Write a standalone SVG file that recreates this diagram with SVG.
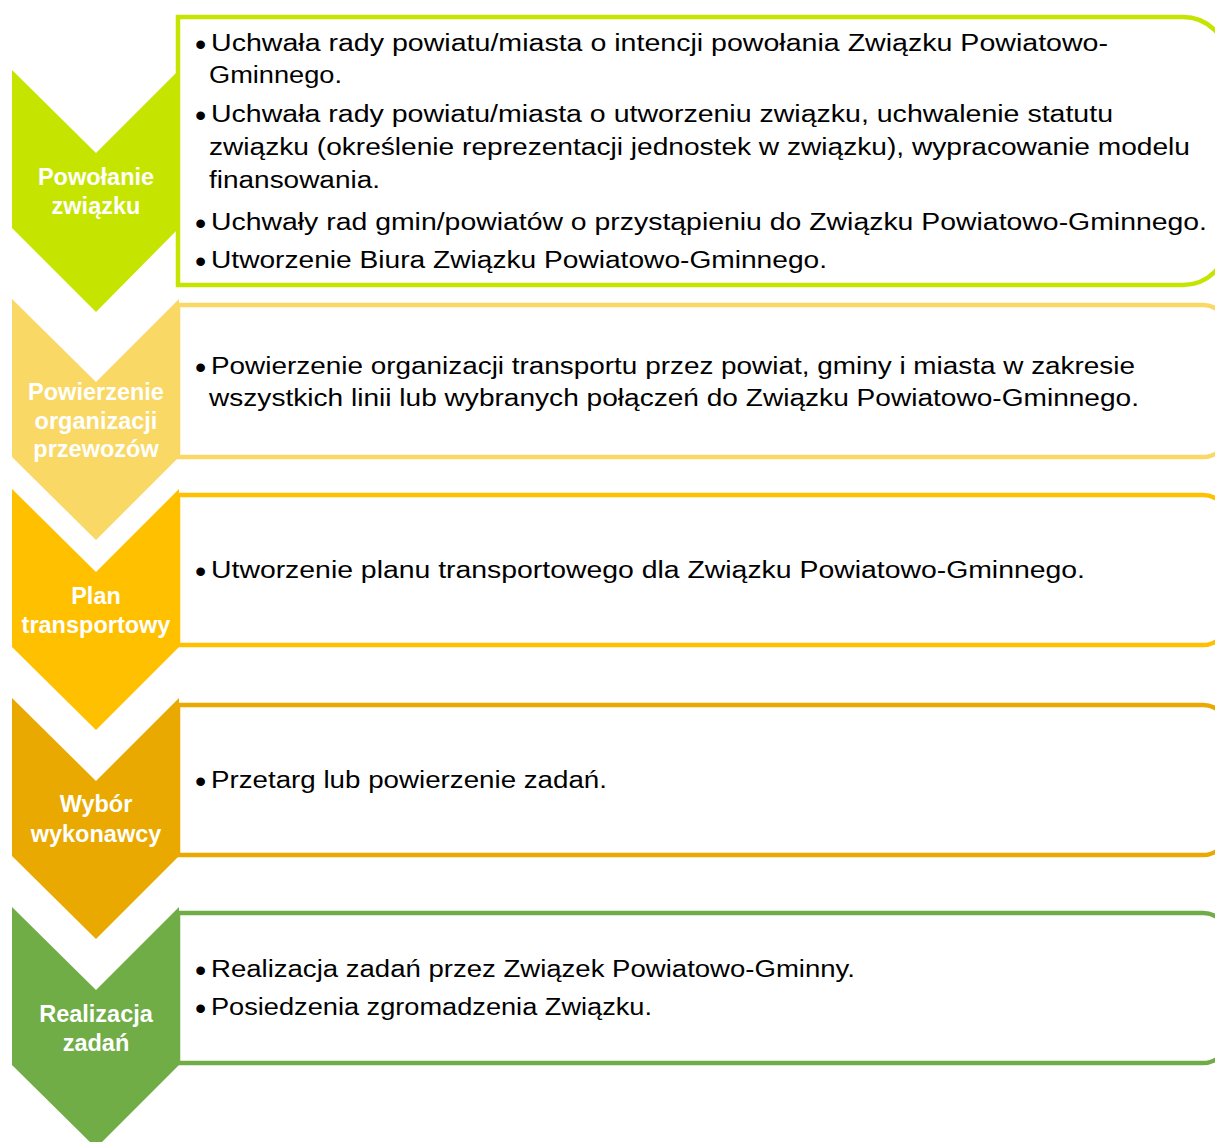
<svg xmlns="http://www.w3.org/2000/svg" width="1215" height="1142" viewBox="0 0 1215 1142">
<style>
.box{fill:#FFFFFF;stroke-width:4.5}
.lbl{font-family:"Liberation Sans",Arial,sans-serif;font-weight:bold;font-size:23.5px;fill:#FFFFFF;text-anchor:middle}
.txt{font-family:"Liberation Sans",Arial,sans-serif;font-size:23.5px;fill:#000000}
.bul{font-family:"Liberation Sans",Arial,sans-serif;font-size:32px;fill:#000000}
</style>
<rect x="0" y="0" width="1215" height="1142" fill="#FFFFFF"/>
<g id="step1">
<path class="box" stroke="#C5E500" d="M178,17 H1183 A45,45 0 0 1 1228,62 V240 A45,45 0 0 1 1183,285 H178 Z"/>
<path fill="#C5E500" d="M12,70 L96,153 L179,70 L179,228 L96,312 L12,228 Z"/>
<text class="lbl" x="96" y="185">Powołanie</text>
<text class="lbl" x="96" y="214">związku</text>
<text class="bul" x="195" y="55">•</text>
<text class="txt" x="211" y="51" textLength="897" lengthAdjust="spacingAndGlyphs">Uchwała rady powiatu/miasta o intencji powołania Związku Powiatowo-</text>
<text class="txt" x="209" y="83" textLength="133" lengthAdjust="spacingAndGlyphs">Gminnego.</text>
<text class="bul" x="195" y="126">•</text>
<text class="txt" x="211" y="122" textLength="902" lengthAdjust="spacingAndGlyphs">Uchwała rady powiatu/miasta o utworzeniu związku, uchwalenie statutu</text>
<text class="txt" x="209" y="155" textLength="981" lengthAdjust="spacingAndGlyphs">związku (określenie reprezentacji jednostek w związku), wypracowanie modelu</text>
<text class="txt" x="209" y="188" textLength="171" lengthAdjust="spacingAndGlyphs">finansowania.</text>
<text class="bul" x="195" y="234">•</text>
<text class="txt" x="211" y="230" textLength="996" lengthAdjust="spacingAndGlyphs">Uchwały rad gmin/powiatów o przystąpieniu do Związku Powiatowo-Gminnego.</text>
<text class="bul" x="195" y="272">•</text>
<text class="txt" x="211" y="268" textLength="616" lengthAdjust="spacingAndGlyphs">Utworzenie Biura Związku Powiatowo-Gminnego.</text>
</g>
<g id="step2">
<path class="box" stroke="#F9D865" d="M178,305 H1203 A25,25 0 0 1 1228,330 V432 A25,25 0 0 1 1203,457 H178 Z"/>
<path fill="#F9D865" d="M12,299 L96,382 L179,299 L179,457 L96,540 L12,457 Z"/>
<text class="lbl" x="96" y="400">Powierzenie</text>
<text class="lbl" x="96" y="429">organizacji</text>
<text class="lbl" x="96" y="457">przewozów</text>
<text class="bul" x="195" y="378">•</text>
<text class="txt" x="211" y="374" textLength="924" lengthAdjust="spacingAndGlyphs">Powierzenie organizacji transportu przez powiat, gminy i miasta w zakresie</text>
<text class="txt" x="209" y="406" textLength="930" lengthAdjust="spacingAndGlyphs">wszystkich linii lub wybranych połączeń do Związku Powiatowo-Gminnego.</text>
</g>
<g id="step3">
<path class="box" stroke="#FFC000" d="M178,495 H1203 A25,25 0 0 1 1228,520 V620 A25,25 0 0 1 1203,645 H178 Z"/>
<path fill="#FFC000" d="M12,489 L96,572 L179,489 L179,647 L96,730 L12,647 Z"/>
<text class="lbl" x="96" y="604">Plan</text>
<text class="lbl" x="96" y="633">transportowy</text>
<text class="bul" x="195" y="582">•</text>
<text class="txt" x="211" y="578" textLength="874" lengthAdjust="spacingAndGlyphs">Utworzenie planu transportowego dla Związku Powiatowo-Gminnego.</text>
</g>
<g id="step4">
<path class="box" stroke="#E9A900" d="M178,705 H1203 A25,25 0 0 1 1228,730 V830 A25,25 0 0 1 1203,855 H178 Z"/>
<path fill="#E9A900" d="M12,698 L96,781 L179,698 L179,856 L96,939 L12,856 Z"/>
<text class="lbl" x="96" y="812">Wybór</text>
<text class="lbl" x="96" y="842">wykonawcy</text>
<text class="bul" x="195" y="792">•</text>
<text class="txt" x="211" y="788" textLength="396" lengthAdjust="spacingAndGlyphs">Przetarg lub powierzenie zadań.</text>
</g>
<g id="step5">
<path class="box" stroke="#70AD47" d="M178,913 H1203 A25,25 0 0 1 1228,938 V1038 A25,25 0 0 1 1203,1063 H178 Z"/>
<path fill="#70AD47" d="M12,907 L96,990 L179,907 L179,1065 L96,1148 L12,1065 Z"/>
<text class="lbl" x="96" y="1022">Realizacja</text>
<text class="lbl" x="96" y="1051">zadań</text>
<text class="bul" x="195" y="981">•</text>
<text class="txt" x="211" y="977" textLength="644" lengthAdjust="spacingAndGlyphs">Realizacja zadań przez Związek Powiatowo-Gminny.</text>
<text class="bul" x="195" y="1019">•</text>
<text class="txt" x="211" y="1015" textLength="441" lengthAdjust="spacingAndGlyphs">Posiedzenia zgromadzenia Związku.</text>
</g>
</svg>
